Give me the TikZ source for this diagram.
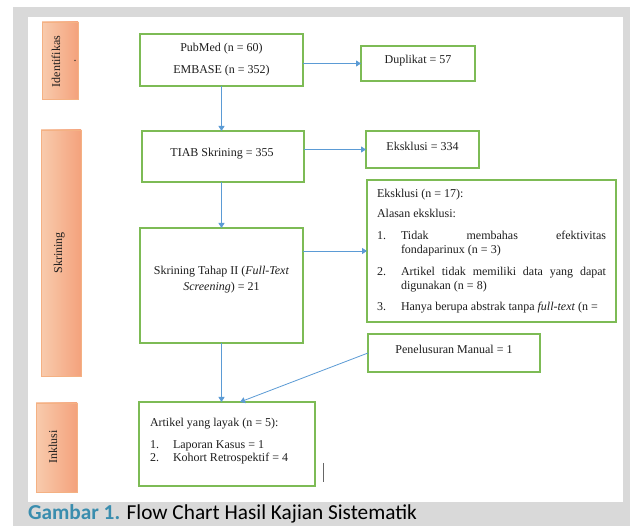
\documentclass[tikz,border=0pt]{standalone}
\usepackage{fontspec}
\setmainfont{Liberation Serif}
\newfontfamily\capfont{Carlito}
\usetikzlibrary{arrows.meta}
\definecolor{grn}{HTML}{7DBB55}
\definecolor{blu}{HTML}{5B9BD5}
\definecolor{gry}{HTML}{D9D9D9}
\definecolor{orl}{HTML}{F8CBAD}
\definecolor{ord}{HTML}{F4A27C}
\definecolor{orb}{HTML}{F4B183}
\definecolor{teal}{HTML}{3A8DAE}
\definecolor{ink}{HTML}{1E1E1E}
\begin{document}
\begin{tikzpicture}[x=1pt,y=-1pt,
  every node/.style={inner sep=0pt,outer sep=0pt,font=\fontsize{12}{14}\selectfont,text=ink},
  box/.style={draw=grn,line width=1.3pt,fill=white,anchor=north west},
  lab/.style={draw=orb,line width=0.8pt,left color=orl,right color=ord,anchor=north west},
  arr/.style={draw=blu,line width=0.8pt,-{Triangle[length=5pt,width=6pt]}},
  txt/.style={anchor=base},
  ltxt/.style={anchor=base west}]
\useasboundingbox (0,0) rectangle (630,526);
\fill[gry] (13,7) rectangle (630,526);
\fill[white] (28,17) rectangle (623,502);
% phase labels
\node[lab,minimum width=36pt,minimum height=77pt] (lid) at (42,22) {};
\node[rotate=90,anchor=base] at (60,61.5) {Identifikas};
\node[anchor=base] at (75,61.5) {.};
\node[lab,minimum width=40pt,minimum height=246pt] (lsk) at (41,130) {};
\node[rotate=90,anchor=base] at (62,253) {Skrining};
\node[lab,minimum width=41pt,minimum height=89pt] (lin) at (36,403) {};
\node[rotate=90,anchor=base] at (57,447) {Inklusi};
% boxes
\node[box,minimum width=163pt,minimum height=52pt] (pub) at (140,34) {};
\node[txt] at (221.5,52) {PubMed (n = 60)};
\node[txt] at (221.5,74) {EMBASE (n = 352)};
\node[box,minimum width=114pt,minimum height=35pt] (dup) at (361,46) {};
\node[txt] at (418,64) {Duplikat = 57};
\node[box,minimum width=162pt,minimum height=51pt] (tiab) at (142,131) {};
\node[txt] at (222,157) {TIAB Skrining = 355};
\node[box,minimum width=113pt,minimum height=37pt] (eks) at (366,131) {};
\node[txt] at (422.5,151) {Eksklusi = 334};
\node[box,minimum width=249pt,minimum height=142pt] (eks17) at (367,180) {};
\node[ltxt] at (377,198) {Eksklusi (n = 17):};
\node[ltxt] at (377,218) {Alasan eksklusi:};
\node[ltxt] at (377,240) {1.};
\node[ltxt] at (401,240) {\makebox[205pt][s]{Tidak membahas efektivitas}};
\node[ltxt] at (401,254) {fondaparinux (n = 3)};
\node[ltxt] at (377,276) {2.};
\node[ltxt] at (401,276) {\makebox[205pt][s]{Artikel tidak memiliki data yang dapat}};
\node[ltxt] at (401,290) {digunakan (n = 8)};
\node[ltxt] at (377,311) {3.};
\node[ltxt] at (401,311) {Hanya berupa abstrak tanpa \textit{full-text} (n =};
\node[box,minimum width=163pt,minimum height=115pt] (skr2) at (140,228) {};
\node[txt] at (221.5,275) {Skrining Tahap II (\textit{Full-Text}};
\node[txt] at (221.5,291) {\textit{Screening}) = 21};
\node[box,minimum width=172pt,minimum height=38pt] (pen) at (368,334) {};
\node[txt] at (454,354) {Penelusuran Manual = 1};
\node[box,minimum width=176pt,minimum height=84pt] (art) at (139,402) {};
\node[ltxt] at (150,427) {Artikel yang layak (n = 5):};
\node[ltxt] at (150,449) {1.};
\node[ltxt] at (173,449) {Laporan Kasus = 1};
\node[ltxt] at (150,462) {2.};
\node[ltxt] at (173,462) {Kohort Retrospektif = 4};
\draw[gray!80!black,line width=0.8pt] (323,463) -- (323,482);
% connectors
\draw[arr] (pub.east |- dup.west) -- (dup.west);
\draw[arr] (pub.south) -- (pub.south |- tiab.north);
\draw[arr] (tiab.east |- eks.west) -- (eks.west);
\draw[arr] (tiab.south -| pub.south) -- (pub.south |- skr2.north);
\draw[arr] (skr2.east |- eks17.west) -- (eks17.west);
\draw[arr] (skr2.south) -- (skr2.south |- art.north);
\draw[arr] (pen.west) -- ([xshift=13pt]art.north);
% caption
\node[anchor=base west,font=\capfont\fontsize{21.3}{24}\selectfont,text=black] (cap) at (28,520)
  {\textcolor{teal}{\bfseries Gambar 1.} Flow Chart Hasil Kajian Sistematik};
\end{tikzpicture}
\end{document}
